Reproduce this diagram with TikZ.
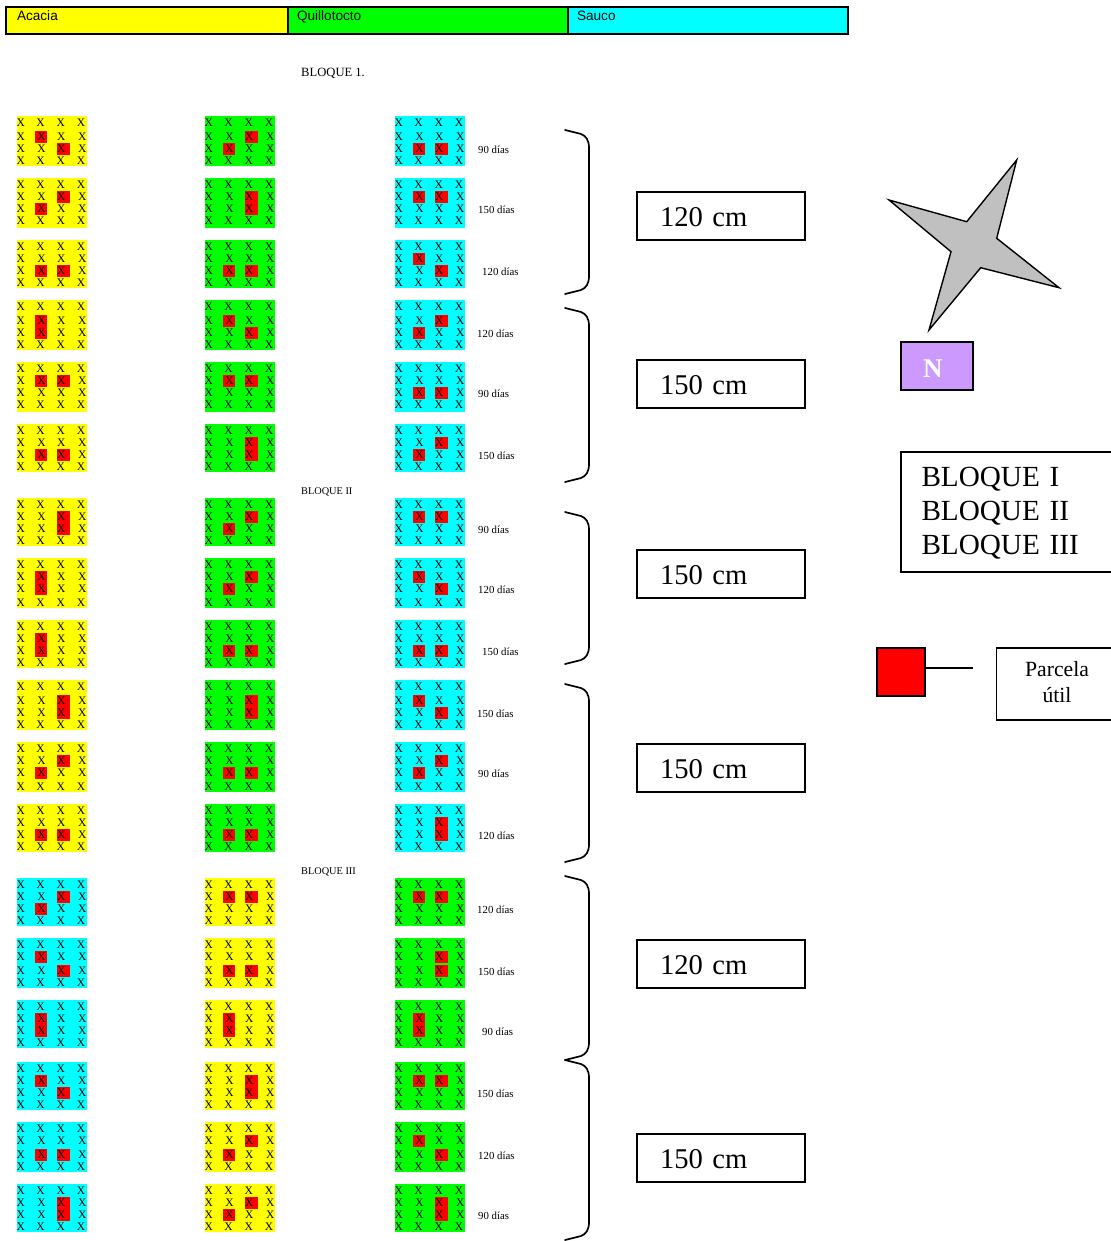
\documentclass[tikz,border=0pt]{standalone}
\usepackage{fontspec}
\setmainfont{Liberation Serif}
\setsansfont{Liberation Sans}
\definecolor{lila}{HTML}{CC99FF}
\definecolor{gris}{HTML}{C0C0C0}
\definecolor{amarillo}{HTML}{FFFF00}
\definecolor{verde}{HTML}{00FF00}
\definecolor{celeste}{HTML}{00FFFF}
\definecolor{rojo}{HTML}{FF0000}
\tikzset{
    marca/.style={inner sep=0pt,font=\fontsize{11.5}{11.5}\selectfont},
    dias/.style={anchor=base west,inner sep=0pt,font=\fontsize{10.8}{12}\selectfont},
    titulo/.style={anchor=base west,inner sep=0pt,font=\fontsize{10.3}{12}\selectfont},
    especie/.style={draw,line width=1.8pt,anchor=north west,outer sep=0pt,inner xsep=9pt,inner ysep=1.5pt,
        text width=262pt,text height=12.5pt,text depth=11.8pt,align=left,font=\sffamily\fontsize{13.6}{14}\selectfont},
    distancia/.style={draw,line width=1.4pt,outer sep=0pt,inner xsep=23pt,text width=122pt,
        text height=24pt,text depth=3pt,minimum height=48pt,align=left,font=\fontsize{28.6}{34}\selectfont},
    llave/.style={line width=1.7pt,line cap=round},
}
% Parcela: nombre, x, y, alto, color, rojas.
\newcommand{\parcela}[6]{
    \fill[#5] (#2,#3) rectangle ++(70,#4);
    \foreach \col/\fil in #6 {
        \pgfmathsetmacro\xr{\col==2?18:40}
        \pgfmathsetmacro\wr{\col==2?12:13}
        \pgfmathsetmacro\yr{\fil==2?\yb:\yc}
        \fill[rojo] ({#2+\xr},{#3+\yr-6}) rectangle ++(\wr,12.4);
    }
    \foreach \i/\xa/\dx in {1/3.7/0,2/23.5/1,3/43.7/.5,4/64/1.2}
        \foreach \j/\yf/\k in {1/6.7/0,2/\yb/1,3/\yc/1,4/\yd/0}
            \node[marca] (#1-\i-\j) at ({#2+\xa+\k*\dx},{#3+\yf}) {X};
}
% Llave derecha.
\newcommand{\llavesup}[1]{(565,#1) -- (581,{#1+4}) .. controls (586,{#1+6}) and (589,{#1+10}) .. (589,{#1+18})}
\newcommand{\llaveinf}[1]{(589,{#1-18}) .. controls (589,{#1-10}) and (586,{#1-6}) .. (581,{#1-4}) -- (565,#1)}
\begin{document}
\begin{tikzpicture}[x=1pt,y=-1pt]
    \useasboundingbox (0,0) rectangle (1110,1241);

    % Especies.
    \node[especie,fill=amarillo,inner xsep=11pt,text width=260pt] (acacia) at (6,7) {Acacia};
    \node[especie,fill=verde] (quillotocto) at (288,7) {Quillotocto};
    \node[especie,fill=celeste] (sauco) at (568,7) {Sauco};

    % Titulos de bloque.
    \node[titulo,font=\fontsize{12.6}{14}\selectfont] (bloque1) at (301,76.5) {BLOQUE 1.};
    \node[titulo] (bloque2) at (301,494.5) {BLOQUE II};
    \node[titulo] (bloque3) at (301,874.5) {BLOQUE III};

    % Parcelas por fila.
    \foreach \y/\alto/\yb/\yc/\yd/\ca/\cb/\cc/\ra/\rb/\rc/\lx/\dia in {
        116/50/20.7/32.7/44.7/amarillo/verde/celeste/{2/2,3/3}/{3/2,2/3}/{2/3,3/3}/478/90 días,
        178/50/18.7/30.7/42.7/amarillo/verde/celeste/{3/2,2/3}/{3/2,3/3}/{2/2,3/2}/478/150 días,
        240/48/18.7/30.7/42.7/amarillo/verde/celeste/{2/3,3/3}/{2/3,3/3}/{2/2,3/3}/482/120 días,
        300/50/20.7/32.7/44.7/amarillo/verde/celeste/{2/2,2/3}/{2/2,3/3}/{3/2,2/3}/477/120 días,
        362/50/18.7/30.7/42.7/amarillo/verde/celeste/{2/2,3/2}/{2/2,3/2}/{2/3,3/3}/478/90 días,
        424/48/18.7/30.7/42.7/amarillo/verde/celeste/{2/3,3/3}/{3/2,3/3}/{3/2,2/3}/478/150 días,
        498/48/18.7/30.7/42.7/amarillo/verde/celeste/{3/2,3/3}/{3/2,2/3}/{2/2,3/2}/478/90 días,
        558/50/18.7/30.7/44.7/amarillo/verde/celeste/{2/2,2/3}/{3/2,2/3}/{2/2,3/3}/478/120 días,
        620/48/18.7/30.7/42.7/amarillo/verde/celeste/{2/2,2/3}/{2/3,3/3}/{2/3,3/3}/482/150 días,
        680/50/20.7/32.7/44.7/amarillo/verde/celeste/{3/2,3/3}/{3/2,3/3}/{2/2,3/3}/477/150 días,
        742/50/18.7/30.7/44.7/amarillo/verde/celeste/{3/2,2/3}/{2/3,3/3}/{3/2,2/3}/478/90 días,
        804/48/18.7/30.7/42.7/amarillo/verde/celeste/{2/3,3/3}/{2/3,3/3}/{3/2,3/3}/478/120 días,
        878/48/18.7/30.7/42.7/celeste/amarillo/verde/{3/2,2/3}/{2/2,3/2}/{2/2,3/2}/477/120 días,
        938/50/18.7/32.7/44.7/celeste/amarillo/verde/{2/2,3/3}/{2/3,3/3}/{3/2,3/3}/478/150 días,
        1000/48/18.7/30.7/42.7/celeste/amarillo/verde/{2/2,2/3}/{2/2,2/3}/{2/2,2/3}/482/90 días,
        1062/48/18.7/30.7/42.7/celeste/amarillo/verde/{2/2,3/3}/{3/2,3/3}/{2/2,3/2}/477/150 días,
        1122/50/18.7/32.7/44.7/celeste/amarillo/verde/{2/3,3/3}/{3/2,2/3}/{2/2,3/3}/478/120 días,
        1184/48/18.7/30.7/42.7/celeste/amarillo/verde/{3/2,3/3}/{3/2,2/3}/{3/2,3/3}/478/90 días%
    } {
        \parcela{a\y}{17}{\y}{\alto}{\ca}{\ra}
        \parcela{b\y}{205}{\y}{\alto}{\cb}{\rb}
        \parcela{c\y}{395}{\y}{\alto}{\cc}{\rc}
        \node[dias] (d\y) at (\lx,{\y+\yc+4.8}) {\dia};
    }

    % Llaves.
    \foreach \ya/\yz in {130/294,308/482,512/664,684/862}
        \draw[llave] \llavesup{\ya} -- \llaveinf{\yz};
    \draw[llave] \llavesup{876} -- \llaveinf{1060};
    \draw[llave] \llavesup{1060} -- \llaveinf{1240};

    % Distancias.
    \node[distancia] (dist1) at (721,216) {120 cm};
    \node[distancia] (dist2) at (721,384) {150 cm};
    \node[distancia] (dist3) at (721,574) {150 cm};
    \node[distancia] (dist4) at (721,768) {150 cm};
    \node[distancia] (dist5) at (721,964) {120 cm};
    \node[distancia] (dist6) at (721,1158) {150 cm};

    % Estrella y norte.
    \draw[fill=gris,line width=1.4pt,line join=miter]
        (1016.7,160) -- (996.7,238.3) -- (1059,287.7) -- (980.7,267.7)
        -- (929,330) -- (951,251.7) -- (889,200) -- (966.7,221.7) -- cycle;
    \node[draw,fill=lila,line width=1.4pt,outer sep=0pt,inner xsep=22pt,text width=28pt,text height=22pt,
        minimum height=48pt,align=left,text=white,font=\bfseries\fontsize{27}{30}\selectfont] (norte) at (937,366) {N};

    % Leyenda.
    \node[draw,line width=1.4pt,outer sep=0pt,inner xsep=20.5pt,text width=170pt,text height=22pt,
        minimum height=120pt,align=left,font=\fontsize{29.2}{34}\selectfont] (bloques) at (1006.5,512)
        {BLOQUE I\\BLOQUE II\\BLOQUE III};
    \node[draw,fill=rojo,line width=1.4pt,outer sep=0pt,minimum size=48pt,inner sep=0pt] (util) at (901,672) {};
    \coordinate (utilfin) at (973.3,668);
    \draw[line width=1.2pt] (util.east |- utilfin) -- (utilfin);
    \node[draw,line width=1.4pt,outer sep=0pt,text width=114pt,text depth=30pt,minimum height=72pt,align=center,
        font=\fontsize{21.7}{26}\selectfont] (parcelautil) at (1057,684) {Parcela\\útil};
\end{tikzpicture}
\end{document}
